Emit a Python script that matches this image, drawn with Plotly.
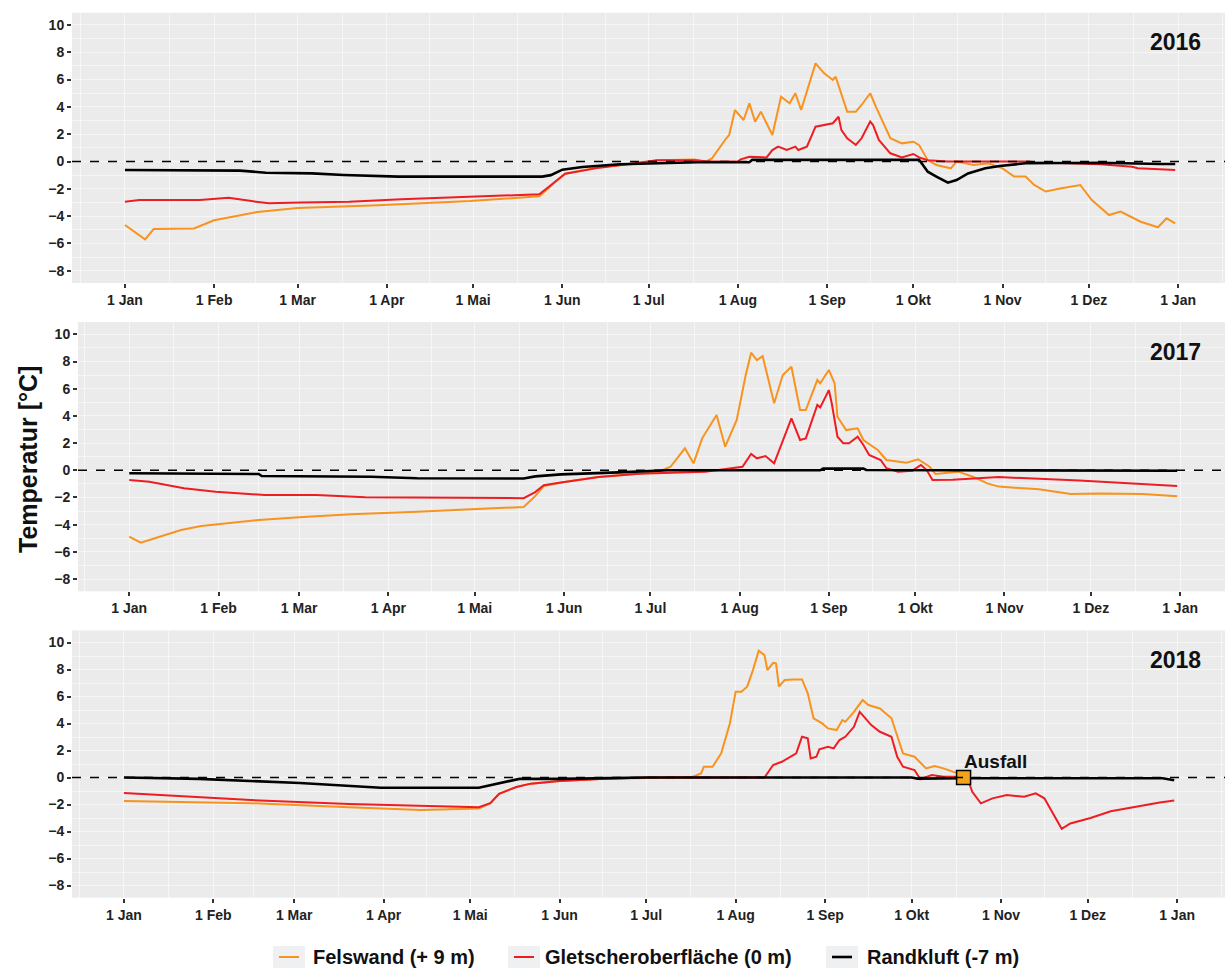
import pandas as pd
import plotly.graph_objects as go

YEARS = [2016, 2017, 2018]
MONTH_LABELS = ["1 Jan", "1 Feb", "1 Mar", "1 Apr", "1 Mai", "1 Jun", "1 Jul",
                "1 Aug", "1 Sep", "1 Okt", "1 Nov", "1 Dez", "1 Jan"]
Y_TICKS = [-8, -6, -4, -2, 0, 2, 4, 6, 8, 10]
SERIES_NAMES = ["Felswand (+ 9 m)", "Gletscheroberfläche (0 m)", "Randkluft (-7 m)"]

# ---- 2016 (day of year offset from 1 Jan, temperature in degC) ----
FELS16_DAY = [0, 7, 10, 24, 31, 46, 60, 76, 88, 120, 144, 147, 150, 153, 165, 176, 185, 198, 202,
              204, 206, 209, 210, 212, 215, 217, 219, 221, 225, 228, 231, 233, 235, 240, 243, 246,
              247, 251, 254, 256, 259, 261, 266, 270, 274, 276, 279, 282, 287, 289, 295, 300, 305,
              309, 313, 316, 320, 325, 332, 336, 342, 346, 353, 359, 362, 365]
FELS16_T = [-4.65, -5.7, -4.95, -4.9, -4.3, -3.7, -3.4, -3.3, -3.2, -2.9, -2.55, -2.0, -1.4, -0.9,
            -0.4, -0.2, 0.1, 0.15, 0.0, 0.23, 0.84, 1.7, 1.94, 3.77, 3.04, 4.26, 2.92, 3.65, 1.94,
            4.75, 4.26, 5.0, 3.77, 7.19, 6.46, 5.97, 6.21, 3.65, 3.65, 4.14, 5.0, 4.0, 1.7, 1.33,
            1.45, 1.2, 0.1, -0.26, -0.5, 0.0, -0.26, -0.13, -0.5, -1.1, -1.1, -1.72, -2.2, -1.97,
            -1.72, -2.82, -3.92, -3.67, -4.41, -4.82, -4.16, -4.53]
GLET16_DAY = [0, 5, 26, 36, 44, 50, 61, 78, 96, 120, 144, 147, 150, 153, 165, 185, 198, 202, 213,
              214, 217, 223, 225, 227, 230, 233, 234, 237, 240, 243, 246, 248, 249, 251, 254, 256,
              259, 260, 262, 266, 270, 274, 276, 279, 286, 314, 316, 339, 350, 352, 365]
GLET16_T = [-2.95, -2.82, -2.82, -2.65, -2.9, -3.06, -3.0, -2.95, -2.77, -2.6, -2.4, -1.9, -1.4,
            -0.9, -0.45, 0.1, 0.1, 0.0, 0.0, 0.16, 0.35, 0.3, 0.84, 1.09, 0.84, 1.09, 0.84, 1.09,
            2.55, 2.67, 2.8, 3.28, 2.3, 1.7, 1.21, 1.7, 2.92, 2.67, 1.58, 0.6, 0.3, 0.55, 0.3, 0.1,
            0.0, 0.0, -0.06, -0.2, -0.38, -0.5, -0.62]
RAND16_DAY = [0, 40, 49, 65, 76, 95, 145, 148, 152, 159, 172, 187, 199, 217, 218, 276, 279, 282,
              286, 289, 293, 299, 304, 313, 339, 360, 365]
RAND16_T = [-0.62, -0.67, -0.82, -0.87, -0.99, -1.11, -1.11, -1.0, -0.6, -0.4, -0.2, -0.1, -0.05,
            -0.05, 0.12, 0.12, -0.75, -1.1, -1.55, -1.36, -0.87, -0.5, -0.33, -0.13, -0.09, -0.18,
            -0.18]

# ---- 2017 ----
FELS17_DAY = [0, 4, 10, 18, 25, 36, 45, 59, 77, 100, 122, 137, 141, 144, 150, 163, 177, 184, 188,
              193, 196, 199, 204, 207, 211, 214, 216, 218, 220, 224, 227, 230, 233, 235, 239, 240,
              243, 245, 246, 249, 253, 255, 260, 263, 270, 274, 278, 280, 288, 293, 298, 302, 316,
              327, 337, 352, 364]
FELS17_T = [-4.88, -5.32, -4.93, -4.39, -4.1, -3.85, -3.65, -3.46, -3.24, -3.04, -2.85, -2.7,
            -1.9, -1.15, -0.9, -0.5, -0.25, -0.1, 0.26, 1.62, 0.51, 2.35, 4.07, 1.74, 3.7, 6.88,
            8.65, 8.11, 8.4, 4.93, 7.01, 7.62, 4.43, 4.43, 6.64, 6.4, 7.38, 6.4, 3.94, 2.96, 3.09,
            2.23, 1.49, 0.76, 0.56, 0.81, 0.26, -0.27, -0.1, -0.47, -0.96, -1.2, -1.4, -1.75,
            -1.7, -1.75, -1.9]
GLET17_DAY = [0, 7, 19, 30, 47, 65, 82, 100, 137, 141, 144, 150, 163, 177, 188, 200, 213, 216,
              218, 221, 224, 227, 230, 233, 235, 239, 240, 243, 244, 246, 248, 250, 253, 255, 257,
              261, 263, 267, 272, 275, 277, 279, 286, 302, 330, 364]
GLET17_T = [-0.71, -0.84, -1.32, -1.57, -1.82, -1.82, -1.99, -2.01, -2.05, -1.6, -1.1, -0.9,
            -0.5, -0.25, -0.2, -0.1, 0.26, 1.2, 0.88, 1.05, 0.51, 2.23, 3.82, 2.23, 2.35, 4.8,
            4.63, 5.9, 4.93, 2.47, 1.99, 1.99, 2.47, 1.86, 1.13, 0.76, 0.15, -0.1, -0.03, 0.39,
            0.02, -0.71, -0.7, -0.5, -0.75, -1.15]
RAND17_DAY = [0, 45, 46, 84, 100, 137, 141, 150, 170, 182, 187, 240, 241, 255, 256, 364]
RAND17_T = [-0.22, -0.27, -0.42, -0.47, -0.59, -0.6, -0.45, -0.3, -0.15, -0.05, 0.0, 0.0, 0.12,
            0.12, 0.02, -0.03]

# ---- 2018 ----
FELS18_DAY = [0, 44, 78, 103, 123, 127, 130, 136, 141, 151, 165, 181, 197, 200, 201, 204, 207,
              210, 212, 214, 216, 218, 220, 222, 223, 225, 226, 227, 229, 232, 235, 237, 239, 242,
              244, 247, 249, 250, 253, 256, 258, 262, 266, 270, 274, 278, 281, 284, 289, 291]
FELS18_T = [-1.74, -1.9, -2.2, -2.4, -2.3, -1.9, -1.2, -0.7, -0.45, -0.25, -0.1, 0.0, 0.05, 0.31,
            0.8, 0.8, 1.79, 4.01, 6.36, 6.36, 6.73, 7.96, 9.4, 9.07, 7.96, 8.5, 8.46, 6.73, 7.22,
            7.27, 7.27, 6.24, 4.39, 4.01, 3.64, 3.52, 4.26, 4.13, 4.87, 5.74, 5.37, 5.12, 4.39,
            1.79, 1.54, 0.68, 0.85, 0.68, 0.31, 0.0]
GLET18_DAY = [0, 44, 78, 103, 123, 127, 130, 136, 141, 151, 165, 181, 222, 225, 228, 233, 235,
              237, 238, 240, 241, 244, 246, 248, 250, 253, 255, 256, 259, 262, 266, 268, 270, 274,
              276, 280, 284, 289, 291, 293, 294, 297, 301, 306, 312, 316, 319, 323, 325, 328, 335,
              342, 352, 359, 364]
GLET18_T = [-1.15, -1.67, -1.96, -2.1, -2.2, -1.9, -1.2, -0.7, -0.45, -0.25, -0.1, 0.0, 0.0, 0.93,
            1.17, 1.79, 3.02, 2.9, 1.42, 1.54, 2.09, 2.28, 2.16, 2.78, 3.02, 3.76, 4.87, 4.63,
            3.89, 3.39, 3.02, 1.54, 0.8, 0.56, -0.13, 0.19, 0.06, 0.06, -0.2, -0.43, -1.05, -1.91,
            -1.54, -1.3, -1.42, -1.17, -1.54, -3.02, -3.8, -3.4, -3.0, -2.5, -2.1, -1.85, -1.7]
RAND18_DAY = [0, 26, 61, 78, 89, 123, 130, 137, 151, 181, 273, 275, 291, 360, 364]
RAND18_T = [0.0, -0.1, -0.4, -0.6, -0.75, -0.75, -0.4, -0.1, -0.1, 0.0, 0.0, -0.08, -0.05,
            -0.05, -0.2]

AUSFALL_DAY = 291
AUSFALL_T = 0.0

DATA = {
    2016: [(FELS16_DAY, FELS16_T), (GLET16_DAY, GLET16_T), (RAND16_DAY, RAND16_T)],
    2017: [(FELS17_DAY, FELS17_T), (GLET17_DAY, GLET17_T), (RAND17_DAY, RAND17_T)],
    2018: [(FELS18_DAY, FELS18_T), (GLET18_DAY, GLET18_T), (RAND18_DAY, RAND18_T)],
}

COLORS = ["#F7931E", "#EE1D23", "#000000"]
WIDTHS = [2, 2, 2.6]
FONT = "Liberation Sans, Arial, sans-serif"
GRID = "#F6F6F6"

W, H = 1225, 972
# panel geometry (pixels): x-left of plot, y-top, y-bottom, x-range in days
PANELS = [
    dict(x0=72, top=12.7, bottom=283.0, rng=(-18.4, 382.3), label_y=42),
    dict(x0=78, top=322.1, bottom=591.3, rng=(-17.8, 380.6), label_y=352),
    dict(x0=72, top=630.4, bottom=897.7, rng=(-18.0, 381.6), label_y=660),
]
# legend geometry (pixels): key line x-start, text x-start
LEGEND_POS = [(279, 311), (514, 543), (832, 865)]
LEGEND_Y = 957


def to_dates(year, days):
    return pd.Timestamp(f"{year}-01-01") + pd.to_timedelta(days, unit="D")


fig = go.Figure()
layout_axes = {}
shapes = []
annotations = []

for i, year in enumerate(YEARS):
    n = "" if i == 0 else str(i + 1)
    xref, yref = f"x{n}", f"y{n}"
    for k, (days, temps) in enumerate(DATA[year]):
        fig.add_trace(go.Scatter(
            x=to_dates(year, days), y=temps, mode="lines",
            line=dict(color=COLORS[k], width=WIDTHS[k]),
            name=SERIES_NAMES[k], legendgroup=SERIES_NAMES[k],
            showlegend=False, xaxis=xref, yaxis=yref,
        ))
    p = PANELS[i]
    start = pd.Timestamp(f"{year}-01-01")
    month_starts = list(pd.date_range(start, periods=13, freq="MS"))
    mids = [a + (b - a) / 2 for a, b in zip(month_starts[:-1], month_starts[1:])]
    mids = [month_starts[0] - pd.Timedelta(days=15.5)] + mids + [month_starts[-1] + pd.Timedelta(days=15.5)]
    r0 = start + pd.Timedelta(days=p["rng"][0])
    r1 = start + pd.Timedelta(days=p["rng"][1])
    layout_axes[f"xaxis{n}"] = dict(
        domain=[p["x0"] / W, 1.0], anchor=yref,
        range=[r0.strftime("%Y-%m-%d %H:%M:%S"), r1.strftime("%Y-%m-%d %H:%M:%S")],
        tickmode="array", tickvals=month_starts, ticktext=MONTH_LABELS,
        ticks="outside", ticklen=4, tickwidth=1.5, tickcolor="#333333",
        showgrid=True, gridcolor=GRID, gridwidth=1,
        minor=dict(tickmode="array", tickvals=mids, showgrid=True, gridcolor=GRID,
                   gridwidth=0.6, ticks=""),
        zeroline=False, showline=False,
        tickfont=dict(family=FONT, size=14, color="#222222", weight="bold"),
    )
    layout_axes[f"yaxis{n}"] = dict(
        domain=[1 - p["bottom"] / H, 1 - p["top"] / H], anchor=xref,
        range=[-8.9, 10.9], tickmode="array", tickvals=Y_TICKS,
        ticks="outside", ticklen=4, tickwidth=1.5, tickcolor="#333333",
        showgrid=True, gridcolor=GRID, gridwidth=1,
        minor=dict(dtick=1, showgrid=True, gridcolor=GRID, gridwidth=0.6, ticks=""),
        zeroline=False, showline=False,
        tickfont=dict(family=FONT, size=14, color="#222222", weight="bold"),
    )
    shapes.append(dict(type="line", xref=f"{xref} domain", yref=yref, x0=0, x1=1, y0=0, y1=0,
                       line=dict(color="#000000", width=1.4, dash="dash"), layer="above"))
    annotations.append(dict(text=str(year), xref="paper", yref="paper", x=1203 / W,
                            y=1 - p["label_y"] / H, xanchor="right", yanchor="middle",
                            showarrow=False,
                            font=dict(family=FONT, size=23, color="#111111", weight="bold")))

# failure marker in 2018
aus_date = to_dates(2018, [AUSFALL_DAY])[0]
fig.add_trace(go.Scatter(
    x=[aus_date], y=[AUSFALL_T], mode="markers", xaxis="x3", yaxis="y3", showlegend=False,
    marker=dict(symbol="square", size=14, color="#F2A21C", line=dict(color="#000000", width=1.5)),
))
annotations.append(dict(text="Ausfall", xref="x3", yref="y3", x=aus_date, y=AUSFALL_T,
                        xanchor="left", yanchor="bottom", xshift=-2, yshift=4, showarrow=False,
                        font=dict(family=FONT, size=19, color="#111111", weight="bold")))

annotations.append(dict(text="Temperatur [°C]", xref="paper", yref="paper", x=28 / W,
                        y=1 - 460 / H, xanchor="center", yanchor="middle", textangle=-90,
                        showarrow=False,
                        font=dict(family=FONT, size=25, color="#111111", weight="bold")))

# legend (ggplot-style bottom legend with key boxes)
ly = 1 - LEGEND_Y / H
for k, (kx, tx) in enumerate(LEGEND_POS):
    shapes.append(dict(type="rect", xref="paper", yref="paper",
                       x0=(kx - 6) / W, x1=(kx + 26) / W, y0=ly - 11 / H, y1=ly + 11 / H,
                       fillcolor="#EEF0F2", line=dict(width=0), layer="below"))
    shapes.append(dict(type="line", xref="paper", yref="paper",
                       x0=kx / W, x1=(kx + 20) / W, y0=ly, y1=ly,
                       line=dict(color=COLORS[k], width=WIDTHS[k])))
    annotations.append(dict(text=SERIES_NAMES[k], xref="paper", yref="paper", x=tx / W, y=ly,
                            xanchor="left", yanchor="middle", showarrow=False,
                            font=dict(family=FONT, size=20, color="#111111", weight="bold")))

fig.update_layout(
    width=W, height=H,
    margin=dict(l=0, r=0, t=0, b=0),
    paper_bgcolor="#FFFFFF", plot_bgcolor="#EBEBEB",
    showlegend=False,
    shapes=shapes, annotations=annotations,
    **layout_axes,
)

fig.write_html("out.html")
